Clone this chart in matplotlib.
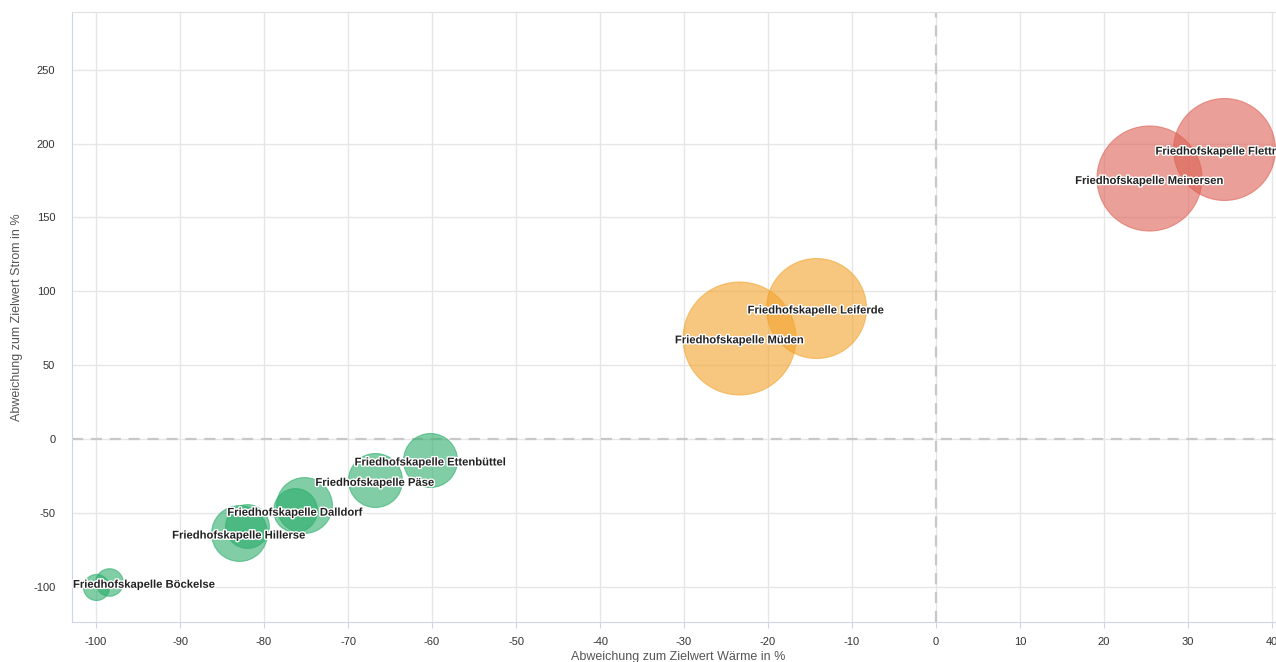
import numpy as np
import matplotlib
matplotlib.use("Agg")
import matplotlib.pyplot as plt
import matplotlib.patheffects as pe

plt.rcParams['font.family'] = ['Liberation Sans', 'DejaVu Sans']
plt.rcParams['axes.unicode_minus'] = False

# Abweichung Wärme (x), Abweichung Strom (y), Blasengröße (z)
namen = ["", "Friedhofskapelle Böckelse", "Friedhofskapelle Hillerse", "",
         "Friedhofskapelle Dalldorf", "", "Friedhofskapelle Päse",
         "Friedhofskapelle Ettenbüttel", "Friedhofskapelle Müden",
         "Friedhofskapelle Leiferde", "Friedhofskapelle Meinersen",
         "Friedhofskapelle Flettmar"]
waerme = [-100.0, -98.5, -83.0, -82.0, -76.3, -75.2, -66.8, -60.2, -23.4, -14.3, 25.4, 34.3]
strom = [-100.0, -96.8, -63.5, -59.0, -48.0, -45.0, -27.8, -14.0, 68.7, 88.9, 176.6, 196.5]
groesse = [17, 19, 78, 48, 48, 78, 73, 73, 319, 250, 276, 260]
gruppe = ["gruen"] * 8 + ["orange"] * 2 + ["rot"] * 2

farben = {"gruen": "#2bad6b", "orange": "#f2a32b", "rot": "#dc6153"}

x_ticks = list(range(-100, 50, 10))
y_ticks = list(range(-100, 300, 50))

fig = plt.figure(figsize=(12.76, 6.62), dpi=100)
ax = fig.add_axes([72 / 1276, 40 / 662, 1212 / 1276, 610 / 662])

ax.set_xlim(-102.86, 41.43)
ax.set_ylim(-123.9, 289.1)
ax.set_xticks(x_ticks)
ax.set_yticks(y_ticks)
ax.grid(True, color="#e6e6e6", linewidth=1)
ax.set_axisbelow(True)

ax.axvline(0, color="#c8c8c8", linewidth=1.6, dashes=(5, 3.5), zorder=1)
ax.axhline(0, color="#c8c8c8", linewidth=1.6, dashes=(5, 3.5), zorder=1)

for i in range(len(waerme)):
    col = farben[gruppe[i]]
    r_px = np.sqrt(groesse[i] * 10)
    s = (2 * r_px * 0.72) ** 2
    ax.scatter(waerme[i], strom[i], s=s, color=col, alpha=0.6,
               edgecolors=col, linewidths=0.8, zorder=2)

fig.canvas.draw()
renderer = fig.canvas.get_renderer()
ax_box = ax.get_window_extent(renderer)
for i in range(len(waerme)):
    if not namen[i]:
        continue
    t = ax.annotate(namen[i], (waerme[i], strom[i]), xytext=(0, -2),
                    textcoords="offset points", ha="center", va="center",
                    fontsize=8.1, fontweight="bold", color="#222222", zorder=5)
    t.set_path_effects([pe.withStroke(linewidth=2.0, foreground="white")])
    bb = t.get_window_extent(renderer)
    if bb.x0 < ax_box.x0:
        t.xyann = ((ax_box.x0 - bb.x0 + 1) * 0.72, -2)

for side in ["left", "bottom"]:
    ax.spines[side].set_color("#ccd6eb")
ax.spines["top"].set_color("#e0e0e0")
ax.spines["right"].set_visible(False)

ax.tick_params(axis="x", colors="#666666", labelsize=8, length=4, pad=7, color="#ccd6eb")
ax.tick_params(axis="y", colors="#666666", labelsize=8, length=0, pad=12)
for lab in ax.get_xticklabels() + ax.get_yticklabels():
    lab.set_color("#333333")

ax.set_xlabel("Abweichung zum Zielwert Wärme in %", fontsize=9, color="#555555", labelpad=3)
ax.set_ylabel("Abweichung zum Zielwert Strom in %", fontsize=9, color="#555555", labelpad=7)

fig.savefig("out.png", dpi=100)
